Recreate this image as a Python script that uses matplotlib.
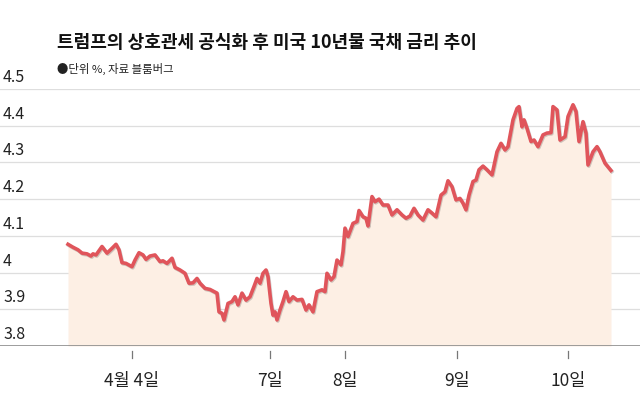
import matplotlib
matplotlib.use('Agg')
import matplotlib.pyplot as plt
import matplotlib.patheffects as pe

plt.rcParams['font.family'] = ['Noto Sans CJK KR', 'DejaVu Sans']

# 10-year treasury yield (%); t = time step
t = [0, 5, 10, 14, 19, 23, 25, 28, 34, 39, 44, 48, 51, 54, 58, 64, 67, 71, 75, 78,
     82, 87, 92, 95, 99, 104, 107, 112, 117, 121, 125, 129, 132, 137, 142, 149,
     151, 154, 156, 158, 160, 164, 167, 170, 174, 178, 182, 186, 189, 192, 195,
     198, 200, 203, 205, 207, 209, 212, 215, 218, 221, 225, 229, 234, 238, 241,
     245, 249, 254, 257, 259, 263, 266, 269, 273, 275,
     277, 280, 285, 289, 291, 295, 298, 300, 304, 307, 311, 315, 320, 324, 329,
     334, 338, 342, 346, 350, 355, 360, 364, 368, 373, 377, 380, 384, 388, 392,
     395, 398, 401, 405, 408, 411, 415, 419, 424, 429, 433, 437, 440, 445, 449,
     451, 454, 456, 459, 463, 466, 470, 475, 479, 483, 485, 489, 492, 497, 500,
     505, 508, 511, 515, 518, 520, 525, 529, 532, 537, 543]
yields = [4.077, 4.069, 4.062, 4.053, 4.051, 4.045, 4.051, 4.048, 4.071, 4.053,
          4.066, 4.077, 4.062, 4.027, 4.025, 4.016, 4.034, 4.054, 4.048, 4.036,
          4.045, 4.048, 4.030, 4.032, 4.025, 4.039, 4.014, 4.007, 3.998, 3.971,
          3.972, 3.984, 3.971, 3.957, 3.954, 3.944,
          3.893, 3.889, 3.871, 3.893, 3.916, 3.921, 3.934, 3.912, 3.944, 3.925,
          3.934, 3.962, 3.984, 3.971, 3.998, 4.007, 3.989, 3.916, 3.884, 3.893,
          3.871, 3.898, 3.921, 3.948, 3.921, 3.934, 3.925, 3.927, 3.898, 3.912,
          3.893, 3.948, 3.953, 3.948, 3.998, 3.980, 3.989, 4.034, 4.021, 4.057,
          4.121, 4.098, 4.134, 4.139, 4.169, 4.152, 4.148, 4.127, 4.207, 4.193,
          4.200, 4.184, 4.184, 4.157, 4.171, 4.157, 4.148, 4.154, 4.175, 4.157,
          4.143, 4.171, 4.162, 4.152, 4.211, 4.220, 4.250, 4.234, 4.198, 4.202,
          4.189, 4.171, 4.211, 4.248, 4.252, 4.280, 4.290, 4.280, 4.266, 4.329,
          4.352, 4.334, 4.343, 4.416, 4.447, 4.452, 4.397, 4.416, 4.393, 4.357,
          4.361, 4.343, 4.375, 4.380, 4.381, 4.452, 4.443, 4.361, 4.370, 4.425,
          4.457, 4.439, 4.357, 4.411, 4.380, 4.293, 4.329, 4.343, 4.329, 4.298,
          4.278]

tick_pos = [64, 202, 277, 389, 500]
tick_labels = ['4월 4일', '7일', '8일', '9일', '10일']
y_ticks = [3.8, 3.9, 4.0, 4.1, 4.2, 4.3, 4.4, 4.5]
y_labels = ['3.8', '3.9', '4', '4.1', '4.2', '4.3', '4.4', '4.5']

fig = plt.figure(figsize=(6.4, 3.99), dpi=100)
ax = fig.add_axes([0, 53 / 399, 1, 257 / 399])
ax.set_xlim(-68, 572)
ax.set_ylim(3.8, 4.5)

for yv in y_ticks[1:]:
    ax.axhline(yv, color='#dedede', lw=0.9, zorder=1)
ax.axhline(3.8, color='#8c8c8c', lw=1.2, zorder=4)

ax.fill_between(t, yields, 3.8, color='#fdefe4', zorder=2, lw=0)
ax.plot(t, yields, color='#e0555b', lw=2.6, solid_joinstyle='round', zorder=3,
        path_effects=[pe.SimpleLineShadow(offset=(0.6, -0.8), alpha=0.18),
                      pe.Normal()])

for s in ax.spines.values():
    s.set_visible(False)
ax.set_yticks([])
ax.set_xticks([])

for pos, lab in zip(tick_pos, tick_labels):
    ax.plot([pos, pos], [-0.018, -0.045], transform=ax.get_xaxis_transform(),
            color='#777777', lw=0.9, clip_on=False)
    ax.text(pos, -0.1, lab, transform=ax.get_xaxis_transform(), ha='center',
            va='top', fontsize=12.5, color='#222222')

for yv, lab in zip(y_ticks, y_labels):
    ax.text(-65, yv + 0.008, lab, ha='left', va='bottom', fontsize=11.5,
            color='#222222')

fig.text(57 / 640, 1 - 43 / 399, '트럼프의 상호관세 공식화 후 미국 10년물 국채 금리 추이',
         fontsize=13, fontweight='heavy', color='#111111', va='center')
fig.text(57 / 640, 1 - 69 / 399, '●단위 %, 자료 블룸버그', fontsize=8.2,
         color='#222222', va='center')

fig.savefig('out.png', dpi=100)
